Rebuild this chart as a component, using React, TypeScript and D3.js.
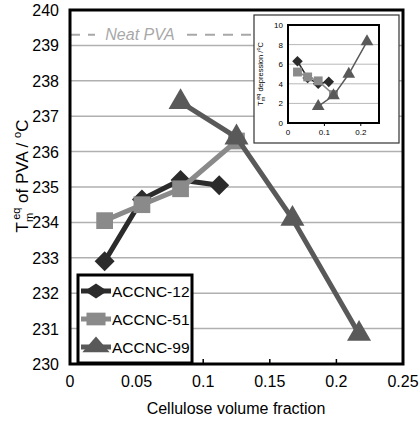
// @ts-nocheck
import { useRef, useEffect } from "react";
import * as d3 from "d3";

const frac12 = [0.026, 0.054, 0.083, 0.112];
const tm12 = [232.9, 234.65, 235.2, 235.05];
const frac51 = [0.026, 0.054, 0.083, 0.125];
const tm51 = [234.05, 234.5, 234.95, 236.3];
const frac99 = [0.083, 0.125, 0.167, 0.217];
const tm99 = [237.4, 236.4, 234.1, 230.85];
const neatPVA = 239.3;

const dep12 = [6.3, 4.6, 4.0, 4.2];
const dep51 = [5.2, 4.7, 4.3, 2.9];
const dep99 = [1.7, 2.8, 5.0, 8.3];

const xTicks = [0, 0.05, 0.1, 0.15, 0.2, 0.25];
const yTicks = [230, 231, 232, 233, 234, 235, 236, 237, 238, 239, 240];
const insetXTicks = [0, 0.1, 0.2];
const insetYTicks = [0, 2, 4, 6, 8, 10];

const series = [
  { name: "ACCNC-12", x: frac12, y: tm12, d: dep12, color: "#2b2b2b", sym: d3.symbolSquare, rot: 45, size: 200 },
  { name: "ACCNC-51", x: frac51, y: tm51, d: dep51, color: "#8a8a8a", sym: d3.symbolSquare, rot: 0, size: 280 },
  { name: "ACCNC-99", x: frac99, y: tm99, d: dep99, color: "#595959", sym: d3.symbolTriangle, rot: 0, size: 250 },
];

export default function App() {
  const ref = useRef(null);

  useEffect(() => {
    const svg = d3.select(ref.current);
    svg.selectAll("*").remove();
    const font = "Liberation Sans, Arial, sans-serif";

    const x = d3.scaleLinear().domain([0, 0.25]).range([70, 403]);
    const y = d3.scaleLinear().domain([230, 240]).range([364, 10]);

    // gridlines
    svg.append("g").selectAll("line").data(yTicks.slice(1, -1)).join("line")
      .attr("x1", 70).attr("x2", 403)
      .attr("y1", (d) => y(d)).attr("y2", (d) => y(d))
      .attr("stroke", "#b0b0b0").attr("stroke-width", 1.5);

    // x tick marks
    svg.append("g").selectAll("line").data(xTicks.slice(1, -1)).join("line")
      .attr("x1", (d) => x(d)).attr("x2", (d) => x(d))
      .attr("y1", 364).attr("y2", 359)
      .attr("stroke", "#000").attr("stroke-width", 1.5);

    // neat PVA dashed
    const ny = y(neatPVA);
    [[70, 95], [187, 260]].forEach(([a, b]) => {
      svg.append("line").attr("x1", a).attr("x2", b).attr("y1", ny).attr("y2", ny)
        .attr("stroke", "#a8a8a8").attr("stroke-width", 2).attr("stroke-dasharray", "10,8");
    });
    svg.append("text").attr("x", 140).attr("y", ny + 5).attr("text-anchor", "middle")
      .attr("font-family", font).attr("font-style", "italic").attr("font-size", 16)
      .attr("fill", "#a8a8a8").text("Neat PVA");

    // frame
    svg.append("rect").attr("x", 70).attr("y", 10).attr("width", 333).attr("height", 354)
      .attr("fill", "none").attr("stroke", "#000").attr("stroke-width", 3);

    // tick labels
    svg.append("g").selectAll("text").data(yTicks).join("text")
      .attr("x", 59).attr("y", (d) => y(d) + 6).attr("text-anchor", "end")
      .attr("font-family", font).attr("font-size", 16).text((d) => d);
    svg.append("g").selectAll("text").data(xTicks).join("text")
      .attr("x", (d) => x(d)).attr("y", 387).attr("text-anchor", "middle")
      .attr("font-family", font).attr("font-size", 16).text((d) => d);

    // axis titles
    svg.append("text").attr("x", 236).attr("y", 414).attr("text-anchor", "middle")
      .attr("font-family", font).attr("font-size", 16).text("Cellulose volume fraction");
    const yl = svg.append("text").attr("transform", "translate(28,176) rotate(-90)")
      .attr("text-anchor", "middle").attr("font-family", font).attr("font-size", 17);
    yl.append("tspan").text("T");
    yl.append("tspan").attr("font-size", 11).attr("dy", 5).text("m");
    yl.append("tspan").attr("font-size", 11).attr("dy", -13).attr("dx", -7).text("eq");
    yl.append("tspan").attr("dy", 8).text(" of PVA / ");
    yl.append("tspan").attr("font-size", 11).attr("dy", -7).text("o");
    yl.append("tspan").attr("dy", 7).text("C");

    const marker = (s, k) => d3.symbol().type(s.sym).size(s.size * k)();

    // series
    series.forEach((s) => {
      const pts = s.x.map((v, i) => [x(v), y(s.y[i])]);
      svg.append("path").attr("d", d3.line()(pts)).attr("fill", "none")
        .attr("stroke", s.color).attr("stroke-width", 5);
      svg.append("g").selectAll("path").data(pts).join("path")
        .attr("transform", (p) => `translate(${p[0]},${p[1]}) rotate(${s.rot})`)
        .attr("d", marker(s, 1))
        .attr("fill", s.color);
    });

    // legend
    svg.append("rect").attr("x", 78).attr("y", 275).attr("width", 114).attr("height", 88)
      .attr("fill", "#fff").attr("stroke", "#000").attr("stroke-width", 3);
    series.forEach((s, i) => {
      const ly = 291 + i * 28;
      svg.append("line").attr("x1", 81).attr("x2", 111).attr("y1", ly).attr("y2", ly)
        .attr("stroke", s.color).attr("stroke-width", 5);
      svg.append("path").attr("transform", `translate(96,${ly}) scale(1.2,0.8) rotate(${s.rot})`)
        .attr("d", marker(s, 0.9)).attr("fill", s.color);
      svg.append("text").attr("x", 112).attr("y", ly + 6).attr("font-family", font)
        .attr("font-size", 15.5).text(s.name);
    });

    // inset
    svg.append("rect").attr("x", 254).attr("y", 15).attr("width", 145).attr("height", 128)
      .attr("fill", "#fff").attr("stroke", "#333").attr("stroke-width", 1.2);
    const ix = d3.scaleLinear().domain([0, 0.25]).range([288, 379]);
    const iy = d3.scaleLinear().domain([0, 10]).range([123, 25]);
    svg.append("g").selectAll("line").data(insetYTicks.slice(1, -1)).join("line")
      .attr("x1", 288).attr("x2", 379).attr("y1", (d) => iy(d)).attr("y2", (d) => iy(d))
      .attr("stroke", "#b8b8b8").attr("stroke-width", 1);
    svg.append("g").selectAll("line").data(insetXTicks.slice(1)).join("line")
      .attr("x1", (d) => ix(d)).attr("x2", (d) => ix(d)).attr("y1", 123).attr("y2", 126)
      .attr("stroke", "#000").attr("stroke-width", 1);
    svg.append("rect").attr("x", 288).attr("y", 25).attr("width", 91).attr("height", 98)
      .attr("fill", "none").attr("stroke", "#000").attr("stroke-width", 2);
    svg.append("g").selectAll("text").data(insetYTicks).join("text")
      .attr("x", 283).attr("y", (d) => iy(d) + 3).attr("text-anchor", "end")
      .attr("font-family", font).attr("font-size", 8).text((d) => d);
    svg.append("g").selectAll("text").data(insetXTicks).join("text")
      .attr("x", (d) => ix(d)).attr("y", 135).attr("text-anchor", "middle")
      .attr("font-family", font).attr("font-size", 8).text((d) => d);
    const il = svg.append("text").attr("transform", "translate(263,74) rotate(-90)")
      .attr("text-anchor", "middle").attr("font-family", font).attr("font-size", 7.5);
    il.append("tspan").text("T");
    il.append("tspan").attr("font-size", 5.5).attr("dy", 2).text("m");
    il.append("tspan").attr("font-size", 5.5).attr("dy", -5).attr("dx", -3).text("eq");
    il.append("tspan").attr("dy", 3).text(" depression /");
    il.append("tspan").attr("font-size", 5.5).attr("dy", -3).text("o");
    il.append("tspan").attr("dy", 3).text("C");

    series.forEach((s) => {
      const pts = s.x.map((v, i) => [ix(v), iy(s.d[i])]);
      svg.append("path").attr("d", d3.line()(pts)).attr("fill", "none")
        .attr("stroke", s.color).attr("stroke-width", 1.5);
      svg.append("g").selectAll("path").data(pts).join("path")
        .attr("transform", (p) => `translate(${p[0]},${p[1]}) rotate(${s.rot})`)
        .attr("d", marker(s, 0.28))
        .attr("fill", s.color);
    });
  }, []);

  return (
    <svg ref={ref} width={420} height={421} style={{ position: "absolute", left: 0, top: 0, background: "#fff" }}></svg>
  );
}
